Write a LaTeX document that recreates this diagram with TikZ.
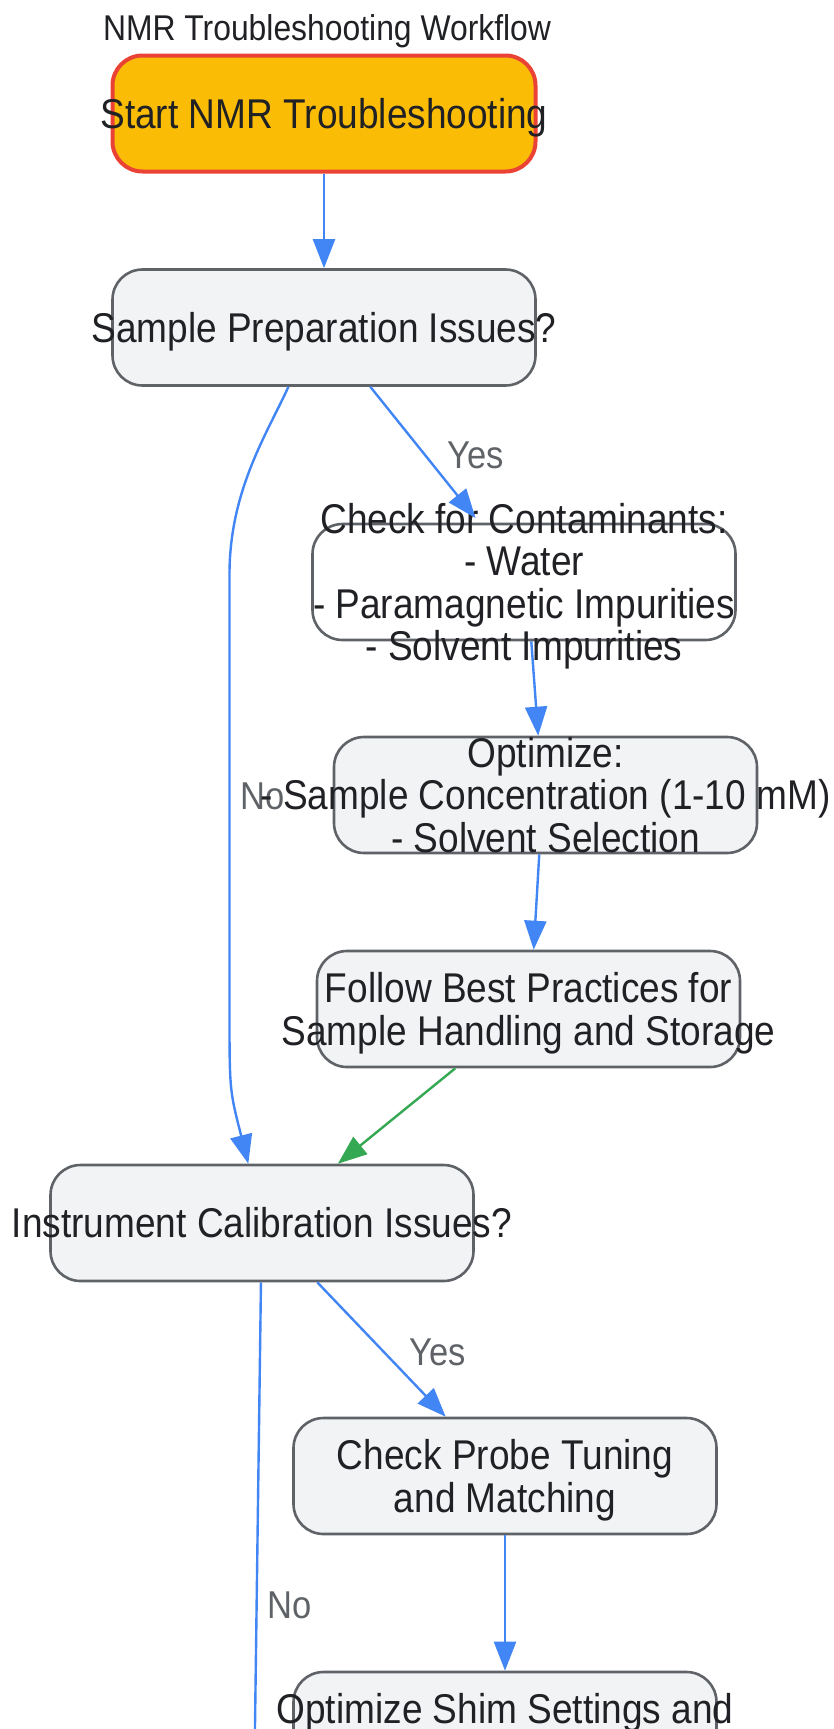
\documentclass[tikz,border=0pt]{standalone}
\usepackage{fontspec}
\setmainfont{Liberation Sans}[FakeStretch=0.89]
\usepackage{xcolor}
\usetikzlibrary{positioning}
\usetikzlibrary{arrows.meta}

\definecolor{flowblue}{HTML}{4285F4}
\definecolor{flowgreen}{HTML}{34A853}
\definecolor{startfill}{HTML}{FBBC05}
\definecolor{startline}{HTML}{EA4335}
\definecolor{boxfill}{HTML}{F1F3F4}
\definecolor{boxline}{HTML}{5F6368}
\definecolor{txt}{HTML}{202124}
\definecolor{lbltxt}{HTML}{5F6368}

% one line of node text: fixed line box, text may spill over the sides
\newcommand{\spill}[1]{\rule[-3.2pt]{0pt}{21.3pt}\makebox[0pt]{\smash{#1}}}

\begin{document}
\begin{tikzpicture}[x=0.5pt,y=-0.5pt,on grid,
   box/.style={rectangle,rounded corners=15pt,draw=boxline,line width=1.3pt,fill=boxfill,
     minimum width=211.5pt,minimum height=58pt,inner xsep=0pt,inner ysep=-30pt,align=center,text=txt,
     font=\fontsize{20.8}{21.3}\selectfont},
   startbox/.style={box,draw=startline,fill=startfill,line width=2pt},
   flow/.style={draw=flowblue,line width=1.2pt,-{Triangle[length=14.5pt,width=11pt]}},
   lbl/.style={text=lbltxt,font=\fontsize{19.4}{20}\selectfont,inner sep=0pt}]
   \useasboundingbox (0,0) rectangle (834,1729);

   \node[startbox] (start) at (324,113.5) {\spill{Start NMR Troubleshooting}};
   \node[text=txt,font=\fontsize{17.9}{18}\selectfont,inner sep=0pt] (title) [above right=41.3pt and 1.5pt of start] {NMR Troubleshooting Workflow};
   \node[box] (sample) [below=107pt of start] {\spill{Sample Preparation Issues?}};
   \node[box,fill=white] (contam) [below right=127.25pt and 100pt of sample]
     {\spill{Check for Contaminants:}\\\spill{- Water}\\\spill{- Paramagnetic Impurities}\\\spill{- Solvent Impurities}};
   \node[lbl] (noA) at (263,796.5) {No};
   \node[box] (optim) [below right=106.5pt and 10.75pt of contam]
     {\spill{Optimize:}\\\spill{- Sample Concentration (1-10 mM)}\\\spill{- Solvent Selection}};
   \node[box] (follow) [below left=107pt and 8.5pt of optim]
     {\spill{Follow Best Practices for}\\\spill{Sample Handling and Storage}};
   \node[box] (instr) [below left=107pt and 133.25pt of follow] {\spill{Instrument Calibration Issues?}};
   \node[box] (probe) [below right=126.5pt and 121.5pt of instr]
     {\spill{Check Probe Tuning}\\\spill{and Matching}};
   \node[box] (shim) [below=127pt of probe] {\spill{Optimize Shim Settings and}\\\spill{}};
   \node[lbl] (yesA) at (475.5,455.6) {Yes};
   \node[lbl] (yesB) at (438,1352.5) {Yes};
   \node[lbl] (noB) at (290,1605) {No};

   \coordinate (bendA) at (229.5,574);
   \coordinate (bendB) at (229.5,1010);
   \coordinate (offpage) at (254,1800);

   \draw[flow] (start) -- (sample);
   \draw[flow,shorten >=3pt] (sample.-52) -- (contam.127);
   \draw[flow] (sample.-121) .. controls (268,432) and (229.5,490) .. (bendA) -- (bendB)
     .. controls (229.5,1090) .. (instr.103);
   \draw[flow] (contam.-83) -- (optim.97);
   \draw[flow] (optim.-96) -- (follow.85);
   \draw[flow,draw=flowgreen] (follow.-141) -- (instr.38);
   \draw[flow] (instr.-47) -- (probe.135);
   \draw[flow] (probe) -- (shim);
   \draw[flow] (instr.-91) -- (offpage);
\end{tikzpicture}
\end{document}
